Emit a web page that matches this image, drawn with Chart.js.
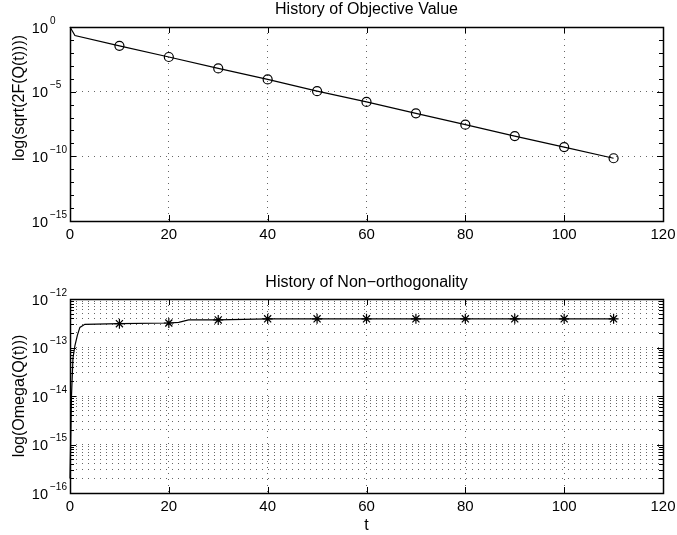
<!DOCTYPE html>
<html>
<head>
<meta charset="utf-8">
<script src="https://cdn.jsdelivr.net/npm/chart.js@4/dist/chart.umd.min.js"></script>
<style>
  body { margin: 0; background: #fff; }
  canvas { display: block; }
</style>
</head>
<body>
<canvas id="objChart" width="677" height="265"></canvas>
<canvas id="ortChart" width="677" height="270"></canvas>
<script>
// history of objective value
const objT = [0, 1, 10, 20, 30, 40, 50, 60, 70, 80, 90, 100, 110];
const objVal = [1, 0.22, 3.5e-2, 4.8e-3, 6.3e-4, 8.9e-5, 1.1e-5, 1.6e-6, 2.1e-7, 2.8e-8, 3.7e-9, 5.2e-10, 7.1e-11];

// history of non-orthogonality
const ortT = [0, 0.3, 0.6, 1, 1.5, 2, 3, 10, 20, 22, 24, 30, 40, 50, 60, 70, 80, 90, 100, 110];
const ortVal = [2e-16, 1e-14, 6e-14, 1.1e-13, 1.8e-13, 2.6e-13, 3.0e-13, 3.1e-13, 3.2e-13, 3.3e-13, 3.7e-13, 3.7e-13,
                3.9e-13, 3.9e-13, 3.9e-13, 3.9e-13, 3.9e-13, 3.9e-13, 3.9e-13, 3.9e-13];

// tick labels
const xTicks = [0, 20, 40, 60, 80, 100, 120];
const objYExps = [0, -5, -10, -15];
const ortYExps = [-12, -13, -14, -15, -16];

const FONT = '"Liberation Sans", Arial, Helvetica, sans-serif';
const gridColor = 'rgba(0,0,0,0.6)';

// every decade between the exponents, plus 2..9 in between if wanted
function logTicks(lo, hi, withMinor) {
    const out = [];
    for (let e = lo; e <= hi; e++) {
        out.push(Math.pow(10, e));
        if (withMinor && e < hi) {
            for (let m = 2; m <= 9; m++) out.push(m * Math.pow(10, e));
        }
    }
    return out;
}
function isDecade(v) {
    const l = Math.log10(v);
    return Math.abs(l - Math.round(l)) < 1e-6;
}

// box, inward ticks, 10^n labels, titles, drawn like matlab does
const matlabAxes = {
    id: 'matlabAxes',
    afterDraw(chart, args, opts) {
        const ctx = chart.ctx;
        const a = chart.chartArea;
        const xs = chart.scales.x;
        const ys = chart.scales.y;
        ctx.save();
        ctx.strokeStyle = '#000';
        ctx.lineWidth = 1;
        // inner ticks on y
        ys.ticks.forEach(t => {
            const y = Math.round(ys.getPixelForValue(t.value)) + 0.5;
            const len = isDecade(t.value) && opts.labelled.includes(Math.round(Math.log10(t.value))) ? 6 : 4;
            ctx.beginPath();
            ctx.moveTo(a.left, y); ctx.lineTo(a.left + len, y);
            ctx.moveTo(a.right, y); ctx.lineTo(a.right - len, y);
            ctx.stroke();
        });
        // inner ticks on x
        xTicks.forEach(v => {
            const x = Math.round(xs.getPixelForValue(v)) + 0.5;
            ctx.beginPath();
            ctx.moveTo(x, a.bottom); ctx.lineTo(x, a.bottom - 6);
            ctx.moveTo(x, a.top); ctx.lineTo(x, a.top + 6);
            ctx.stroke();
        });
        // box
        ctx.lineWidth = 1.5;
        ctx.strokeRect(Math.round(a.left) + 0.5, Math.round(a.top) + 0.5,
                       Math.round(a.right - a.left), Math.round(a.bottom - a.top));
        // y labels with exponent
        ctx.fillStyle = '#000';
        opts.labelled.forEach(e => {
            const y = ys.getPixelForValue(Math.pow(10, e));
            ctx.font = '14.5px ' + FONT;
            ctx.textAlign = 'right';
            ctx.textBaseline = 'middle';
            ctx.fillText('10', 48, y + 1.5);
            ctx.font = '10px ' + FONT;
            ctx.textAlign = 'left';
            ctx.fillText(String(e).replace('-', '\u2212'), 50, y - 6);
        });
        // plot title, centred on the axes like matlab
        ctx.font = '16px ' + FONT;
        ctx.textAlign = 'center';
        ctx.textBaseline = 'middle';
        ctx.fillText(opts.title, (a.left + a.right) / 2, opts.titleY);
        // y title
        ctx.translate(20, (a.top + a.bottom) / 2 + opts.yTitleShift);
        ctx.rotate(-Math.PI / 2);
        ctx.fillText(opts.yTitle, 0, 0);
        ctx.restore();
    }
};

function makeChart(id, cfg) {
    return new Chart(document.getElementById(id), {
        type: 'line',
        data: {
            datasets: [{
                data: cfg.t.map((t, i) => ({ x: t, y: cfg.v[i] })),
                borderColor: '#000',
                borderWidth: 1.2,
                backgroundColor: 'rgba(0,0,0,0)',
                pointStyle: cfg.marker,
                pointRadius: c => {
                    const t = cfg.t[c.dataIndex];
                    return (t > 0 && t % 10 === 0) ? cfg.markerSize : 0;
                },
                pointBorderColor: '#000',
                pointBorderWidth: 1.2,
                pointBackgroundColor: 'rgba(0,0,0,0)',
                tension: 0,
                clip: false
            }]
        },
        options: {
            responsive: false,
            animation: false,
            devicePixelRatio: 1,
            layout: { padding: { left: 0, right: 14, top: cfg.top, bottom: 0 } },
            plugins: {
                legend: { display: false },
                tooltip: { enabled: false },
                title: { display: false },
                matlabAxes: { labelled: cfg.exps, title: cfg.title, titleY: cfg.titleY,
                              yTitle: cfg.yTitle, yTitleShift: cfg.yTitleShift }
            },
            scales: {
                x: {
                    type: 'linear',
                    min: 0,
                    max: 120,
                    afterBuildTicks: s => { s.ticks = xTicks.map(v => ({ value: v })); },
                    afterFit: s => { s.height = cfg.xHeight; s.paddingLeft = 0; s.paddingRight = 0; },
                    ticks: { color: '#000', font: { family: FONT, size: 15 }, padding: 5, maxRotation: 0 },
                    grid: {
                        drawTicks: false,
                        color: c => (c.tick && c.tick.value > 0 && c.tick.value < 120) ? gridColor : 'rgba(0,0,0,0)',
                        lineWidth: 1
                    },
                    border: { display: false, dash: [1, 5] },
                    title: {
                        display: !!cfg.xTitle,
                        text: cfg.xTitle || '',
                        color: '#000',
                        font: { family: FONT, size: 16 },
                        padding: { top: 0, bottom: 0 }
                    }
                },
                y: {
                    type: 'logarithmic',
                    min: Math.pow(10, cfg.lo),
                    max: Math.pow(10, cfg.hi),
                    afterBuildTicks: s => { s.ticks = logTicks(cfg.lo, cfg.hi, cfg.minorGrid).map(v => ({ value: v })); },
                    afterFit: s => { s.width = 70; s.paddingTop = 0; s.paddingBottom = 0; },
                    ticks: { display: false },
                    grid: {
                        drawTicks: false,
                        color: c => {
                            if (!c.tick) return 'rgba(0,0,0,0)';
                            const v = c.tick.value;
                            if (v <= Math.pow(10, cfg.lo) * 1.0001 || v >= Math.pow(10, cfg.hi) * 0.9999) return 'rgba(0,0,0,0)';
                            if (cfg.minorGrid) return gridColor;
                            return (isDecade(v) && cfg.exps.includes(Math.round(Math.log10(v)))) ? gridColor : 'rgba(0,0,0,0)';
                        },
                        lineWidth: 1
                    },
                    border: { display: false, dash: [1, 5] }
                }
            }
        },
        plugins: [matlabAxes]
    });
}

makeChart('objChart', {
    t: objT, v: objVal,
    marker: 'circle', markerSize: 4.5,
    title: 'History of Objective Value', titleY: 10, top: 27,
    yTitle: 'log(sqrt(2F(Q(t))))', yTitleShift: -26,
    exps: objYExps, lo: -15, hi: 0, minorGrid: false,
    xHeight: 44
});

makeChart('ortChart', {
    t: ortT, v: ortVal,
    marker: 'star', markerSize: 5,
    title: 'History of Non\u2212orthogonality', titleY: 18, top: 34,
    yTitle: 'log(Omega(Q(t)))', yTitleShift: 0,
    exps: ortYExps, lo: -16, hi: -12, minorGrid: true,
    xHeight: 42, xTitle: 't'
});
</script>
</body>
</html>
